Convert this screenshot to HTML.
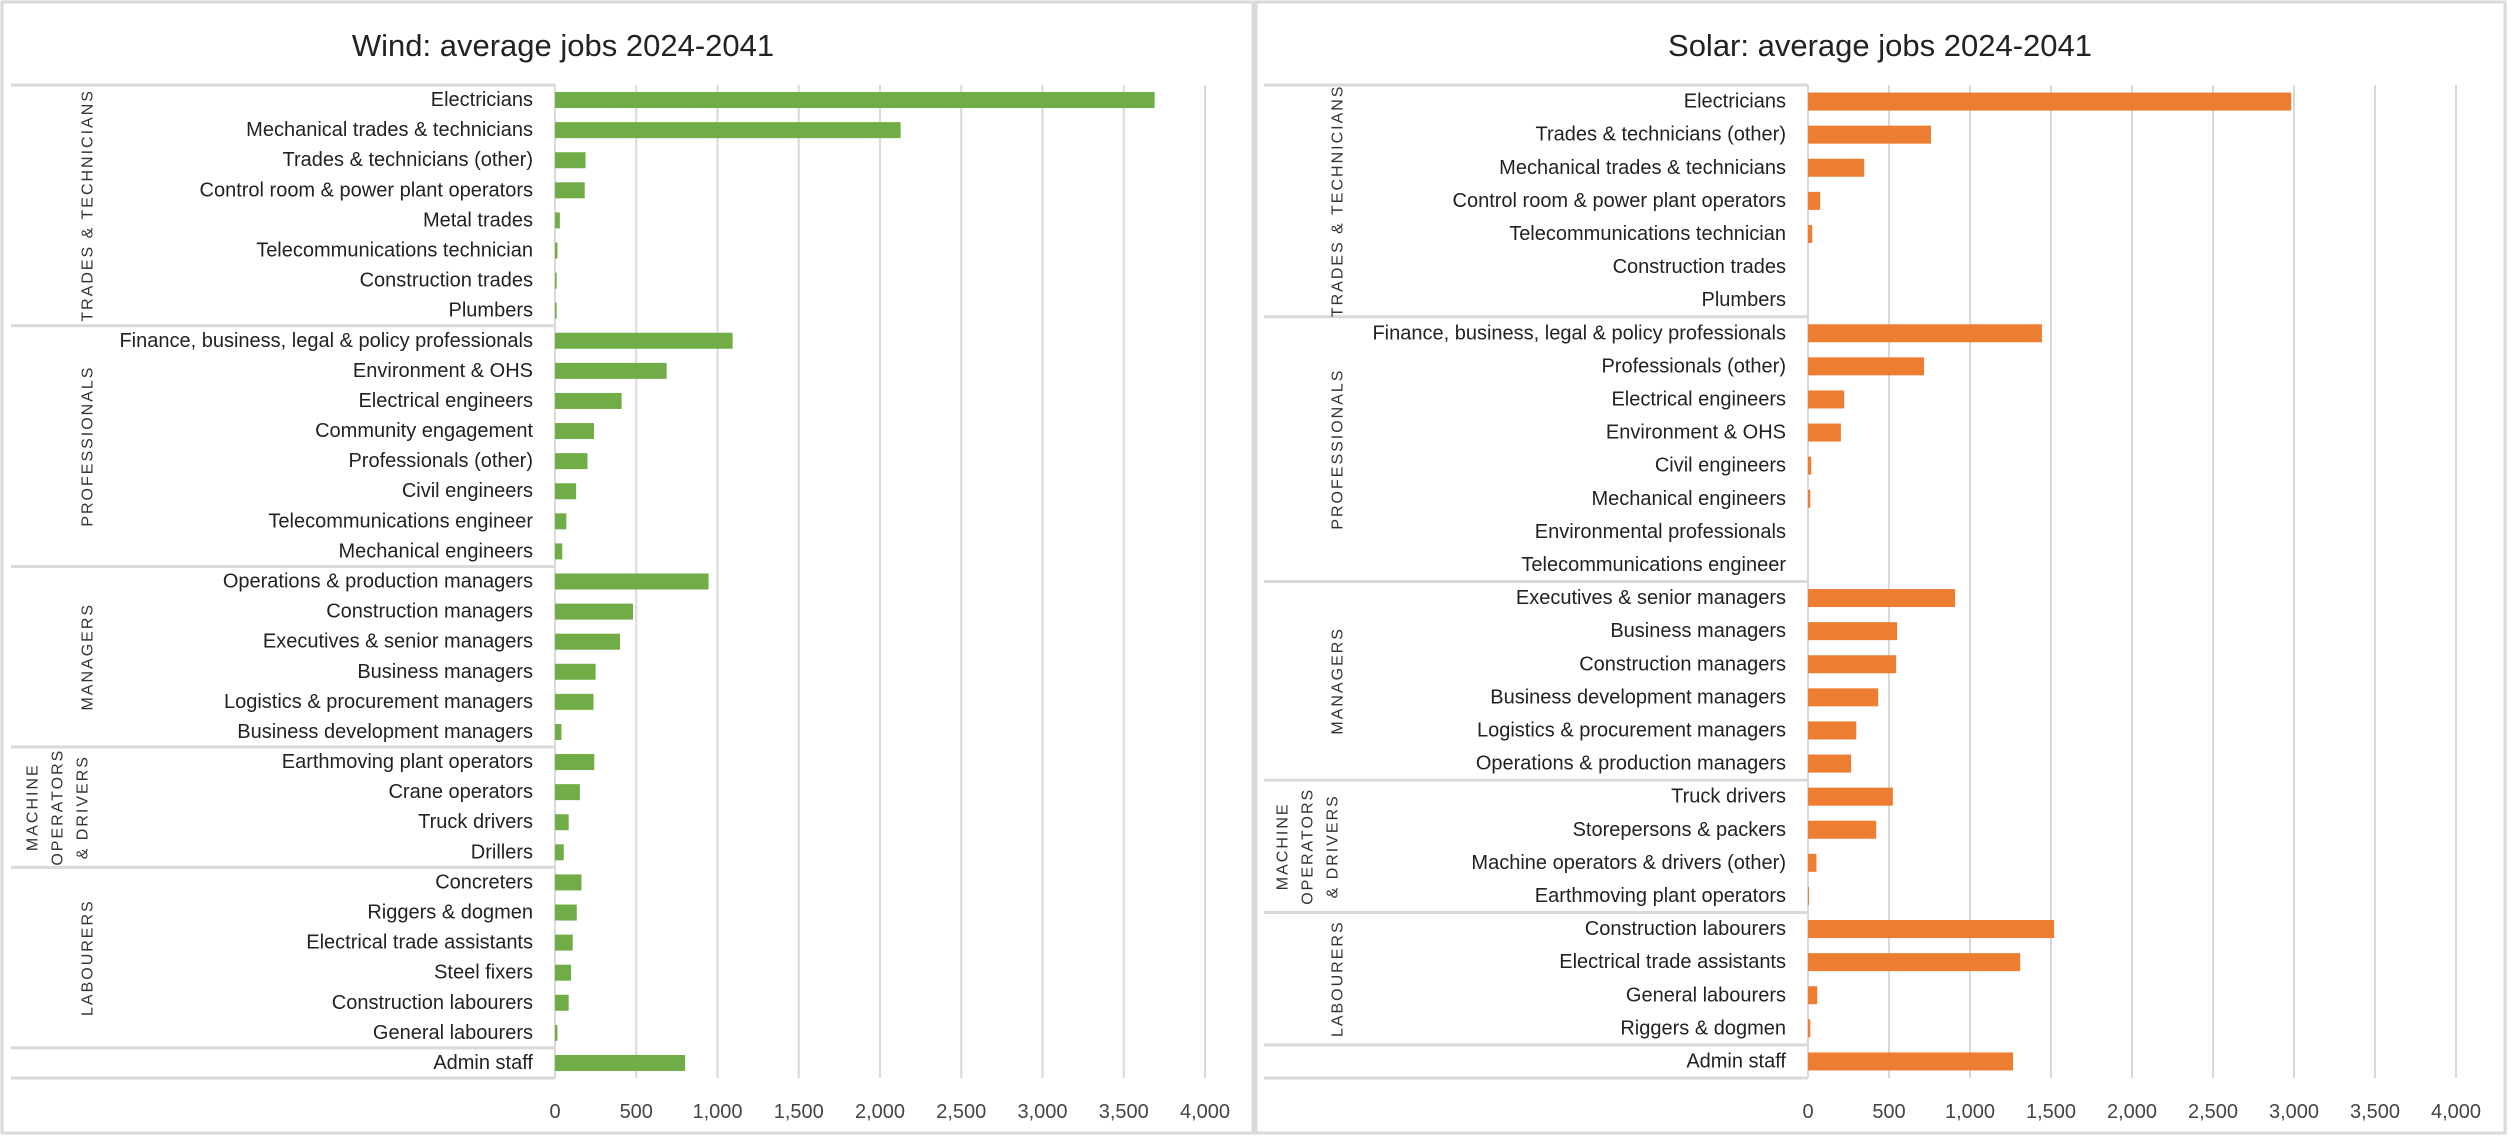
<!DOCTYPE html>
<html><head><meta charset="utf-8"><style>
html,body{margin:0;padding:0;background:#fff;}
svg{display:block;font-family:"Liberation Sans Narrow","Liberation Sans",sans-serif;}
</style></head><body>
<svg id="chart" width="2508" height="1136" viewBox="0 0 2508 1136" xmlns="http://www.w3.org/2000/svg"></svg>
<script>
const windCategories = ["Electricians","Mechanical trades & technicians","Trades & technicians (other)","Control room & power plant operators","Metal trades","Telecommunications technician","Construction trades","Plumbers","Finance, business, legal & policy professionals","Environment & OHS","Electrical engineers","Community engagement","Professionals (other)","Civil engineers","Telecommunications engineer","Mechanical engineers","Operations & production managers","Construction managers","Executives & senior managers","Business managers","Logistics & procurement managers","Business development managers","Earthmoving plant operators","Crane operators","Truck drivers","Drillers","Concreters","Riggers & dogmen","Electrical trade assistants","Steel fixers","Construction labourers","General labourers","Admin staff"];
const windValues = [3690,2127,188,183,30,15,10,10,1093,687,410,240,200,130,70,45,945,480,400,250,237,40,242,153,84,54,163,134,109,99,84,15,801];
const windGroups = [["TRADES & TECHNICIANS"],["PROFESSIONALS"],["MANAGERS"],["MACHINE","OPERATORS","& DRIVERS"],["LABOURERS"],[""]];
const windGroupSizes = [8,8,6,4,6,1];
const solarCategories = ["Electricians","Trades & technicians (other)","Mechanical trades & technicians","Control room & power plant operators","Telecommunications technician","Construction trades","Plumbers","Finance, business, legal & policy professionals","Professionals (other)","Electrical engineers","Environment & OHS","Civil engineers","Mechanical engineers","Environmental professionals","Telecommunications engineer","Executives & senior managers","Business managers","Construction managers","Business development managers","Logistics & procurement managers","Operations & production managers","Truck drivers","Storepersons & packers","Machine operators & drivers (other)","Earthmoving plant operators","Construction labourers","Electrical trade assistants","General labourers","Riggers & dogmen","Admin staff"];
const solarValues = [2983,759,347,75,26,0,0,1444,716,223,203,20,14,0,0,908,550,544,433,298,266,524,421,52,6,1519,1310,57,14,1266];
const solarGroups = [["TRADES & TECHNICIANS"],["PROFESSIONALS"],["MANAGERS"],["MACHINE","OPERATORS","& DRIVERS"],["LABOURERS"],[""]];
const solarGroupSizes = [7,8,6,4,4,1];
const tickValues = [0,500,1000,1500,2000,2500,3000,3500,4000];
const tickLabels = ["0","500","1,000","1,500","2,000","2,500","3,000","3,500","4,000"];

const NS = "http://www.w3.org/2000/svg";
const svg = document.getElementById("chart");
function mk(tag, attrs, parent){const e=document.createElementNS(NS,tag);for(const k in attrs)e.setAttribute(k,attrs[k]);(parent||svg).appendChild(e);return e;}

function panel(cfg){
  const g = mk("g",{});
  
  
  const border = mk("rect",{x:cfg.px,y:2,width:cfg.pw,height:1131,fill:"#fff",stroke:"#d9d9d9","stroke-width":3},g);
  
  
  const title = mk("text",{x:cfg.tx,y:56,"text-anchor":"middle","font-size":31,fill:"#222"},g);
  title.textContent = cfg.title;
  
  
  const top=85, bottom=1078;
  const xs = v => cfg.x0 + (v/4000)*(cfg.x1-cfg.x0);
  const n = cfg.cats.length, step=(bottom-top)/n;
  const ys = i => top + step*(i+0.5);
  tickValues.forEach((t,i)=>{
    const gl = mk("line",{x1:xs(t),x2:xs(t),y1:top,y2:bottom,stroke:"#d9d9d9","stroke-width":2},g);
    
    
    const tl = mk("text",{x:xs(t),y:1118,"text-anchor":"middle","font-size":20,fill:"#444"},g);
    tl.textContent = tickLabels[i];
    
    
  });
  let start=0;
  const hl0 = mk("line",{x1:cfg.tl,x2:cfg.x0,y1:top,y2:top,stroke:"#d9d9d9","stroke-width":3},g);
  
  
  cfg.sizes.forEach((sz,gi)=>{
    const yEnd = top + step*(start+sz);
    const hl = mk("line",{x1:cfg.tl,x2:cfg.x0,y1:yEnd,y2:yEnd,stroke:"#d9d9d9","stroke-width":3},g);
    
    
    const lines = cfg.groups[gi];
    const cy = top + step*(start+sz/2);
    const lh = 25;
    lines.forEach((ln,li)=>{
      if(!ln) return;
      const lx = cfg.gx + (li-(lines.length-1)/2)*lh + (lines.length>1? -30:0);
      const t = mk("text",{x:lx,y:cy,"text-anchor":"middle","dominant-baseline":"central","font-size":16,"letter-spacing":2,fill:"#333",
        "font-family":"'Liberation Sans',sans-serif",transform:`rotate(-90 ${lx} ${cy})`},g);
      t.textContent = ln;
      
      
    });
    start += sz;
  });
  const vl = mk("line",{x1:cfg.x0,x2:cfg.x0,y1:top,y2:bottom,stroke:"#d9d9d9","stroke-width":2},g);
  
  
  cfg.cats.forEach((c,i)=>{
    const lbl = mk("text",{x:cfg.x0-22,y:ys(i),"text-anchor":"end","dominant-baseline":"central","font-size":20,fill:"#222"},g);
    lbl.textContent = c;
    
    
    const bh = cfg.bh;
    const r = mk("rect",{x:xs(0),y:ys(i)-bh/2,width:Math.max(0,xs(cfg.vals[i])-xs(0)),height:bh,fill:cfg.color},g);
    
    
  });
}
panel({name:"wind-chart",title:"Wind: average jobs 2024-2041",px:2,pw:1251,tx:563,x0:555,x1:1205,tl:11,gx:88,
  cats:windCategories,vals:windValues,groups:windGroups,sizes:windGroupSizes,color:"#70ad47",bh:16});
panel({name:"solar-chart",title:"Solar: average jobs 2024-2041",px:1256,pw:1249,tx:1880,x0:1808,x1:2456,tl:1264,gx:1338,
  cats:solarCategories,vals:solarValues,groups:solarGroups,sizes:solarGroupSizes,color:"#ed7d31",bh:18});
</script>
</body></html>
